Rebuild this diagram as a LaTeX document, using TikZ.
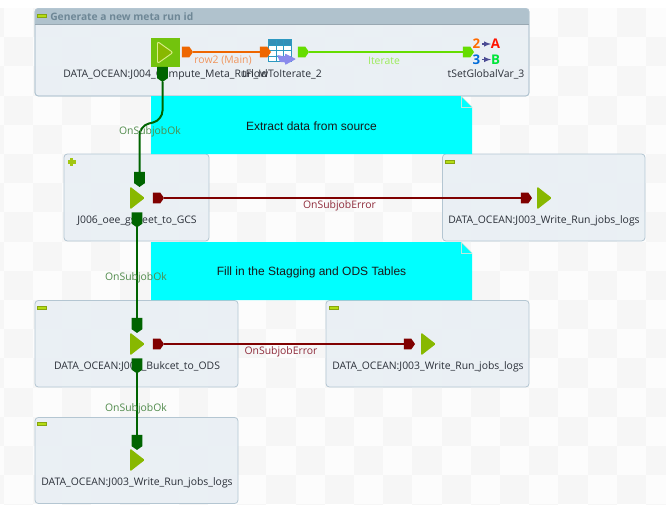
\documentclass[tikz,border=0pt]{standalone}
\usepackage{fontspec}
\usetikzlibrary{shapes.symbols}
\newfontfamily\uifont{Open Sans}
\newfontfamily\notefont{Liberation Sans}
\definecolor{tileD}{HTML}{F6F6F6}
\definecolor{tileL}{HTML}{FCFCFC}
\definecolor{bodyC}{HTML}{E9EFF4}
\definecolor{edgeC}{HTML}{B4C6D2}
\definecolor{headC}{HTML}{B0C2CD}
\definecolor{okC}{HTML}{006400}
\definecolor{errC}{HTML}{800000}
\definecolor{rowC}{HTML}{EE6600}
\definecolor{iterC}{HTML}{66DD00}
\definecolor{playC}{HTML}{88B800}
\definecolor{barC}{HTML}{B4DC14}
\definecolor{noteC}{HTML}{00FFFF}
\definecolor{foldC}{HTML}{BFE8DC}
\definecolor{okTxt}{HTML}{4F8A4A}
\definecolor{errTxt}{HTML}{8E2A3A}
\definecolor{rowTxt}{HTML}{F0965F}
\definecolor{iterTxt}{HTML}{9CEB5A}
\definecolor{compTxt}{HTML}{2A2F38}
\definecolor{headTxt}{HTML}{6E8796}
\tikzset{
  subjob/.style={draw=edgeC,fill=bodyC,line width=.6pt,rounded corners=2.5pt},
  tabbase/.style={signal,signal from=nowhere,signal pointer angle=110,inner sep=0pt,outer sep=0pt,draw=none},
  tabE/.style={tabbase,signal to=east,minimum width=8.4pt,minimum height=8.2pt},
  tabS/.style={tabbase,signal to=south,minimum width=8.2pt,minimum height=8.4pt},
  conn/.style={line width=1.5pt},
  complabel/.style={font=\uifont\fontsize{7.8}{9}\selectfont,text=compTxt,inner sep=0pt},
  linklabel/.style={font=\uifont\fontsize{7.8}{9}\selectfont,inner sep=0pt},
  notetext/.style={font=\notefont\fontsize{9}{10}\selectfont,text=black!90,inner sep=0pt},
  varglyph/.style={inner sep=0pt,font=\uifont\bfseries\fontsize{10}{11}\selectfont}
}
\newcommand{\playicon}[2]{\fill[playC,rounded corners=1pt] (#1-7.3,#2-11.5) -- (#1+7.5,#2) -- (#1-7.3,#2+11.5) -- cycle;}
\newcommand{\minusicon}[2]{\draw[draw=barC!75!black,fill=barC,line width=.3pt] (#1,#2-1.6) rectangle (#1+9,#2+1.6);}
\newcommand{\noteshape}[4]{%
  \fill[noteC] (#1,#2) -- (#3-11,#2) -- (#3,#2+11) -- (#3,#4) -- (#1,#4) -- cycle;
  \draw[draw=foldC,line width=.5pt] (#3-11,#2) -- (#3-11,#2+11) -- (#3,#2+11);
  \draw[draw=foldC,line width=.4pt] (#3-11,#2) -- (#3,#2+11);
}
\begin{document}
\begin{tikzpicture}[x=0.75pt,y=-0.75pt]
\clip (0,0) rectangle (666,504);
\fill[white] (0,0) rectangle (666,504);
\fill[tileL] (0,8) rectangle (666,504);
\foreach \i in {-1,...,23}{\foreach \j in {0,...,17}{%
  \pgfmathtruncatemacro{\k}{mod(\i+\j+40,2)}%
  \ifnum\k=1
    \fill[tileD] ({3.6+29.2*\i},{8+29.2*\j}) rectangle ++(29.2,29.2);
  \fi}}

% subjob groups
\draw[subjob,fill opacity=.9] (35,8.5) rectangle (529,96);
\begin{scope}
\clip[rounded corners=2.5pt] (35,8.5) rectangle (529,96);
\fill[headC] (35,8.5) rectangle (529,24);
\end{scope}
\draw[subjob,fill=none] (35,8.5) rectangle (529,96);
\draw[edgeC!85!black,line width=.4pt] (35,24) -- (529,24);
\draw[subjob,fill opacity=.9] (64,154) rectangle (209,241);
\draw[subjob,fill opacity=.9] (442.5,154) rectangle (645,241);
\draw[subjob,fill opacity=.9] (35,300.5) rectangle (238,387);
\draw[subjob,fill opacity=.9] (326,300.5) rectangle (529,387);
\draw[subjob,fill opacity=.9] (35,417.5) rectangle (238,503.5);

\minusicon{37.5}{16}
\minusicon{445}{162}
\minusicon{37.5}{308}
\minusicon{329}{308}
\minusicon{37.5}{424}
% plus icon
\fill[barC!90!black] (67.5,160.3) rectangle (75.5,163.7);
\fill[barC!90!black] (69.8,158) rectangle (73.2,166);

\node[anchor=west,inner sep=0pt,font=\uifont\bfseries\fontsize{7.7}{9}\selectfont,text=headTxt] (grouptitle) at (50,16.5) {Generate a new meta run id};

% notes
\noteshape{151}{96}{472}{154}
\noteshape{151}{242}{472}{300}
\node[notetext] (note1) at (311.5,126) {Extract data from source};
\node[notetext] (note2) at (311.5,272) {Fill in the Stagging and ODS Tables};

% component labels
\node[complabel] (c1) at (165.5,74.5) {DATA\_OCEAN:J004\_Compute\_Meta\_Run\_Id};
\node[complabel] (c2) at (282,74.5) {tFlowToIterate\_2};
\node[complabel] (c3) at (486,74.5) {tSetGlobalVar\_3};
\node[complabel] (c4) at (137,220.5) {J006\_oee\_gsheet\_to\_GCS};
\node[complabel] (c5) at (544,220.5) {DATA\_OCEAN:J003\_Write\_Run\_jobs\_logs};
\node[complabel] (c6) at (137,366.5) {DATA\_OCEAN:J004\_Bukcet\_to\_ODS};
\node[complabel] (c7) at (428,366.5) {DATA\_OCEAN:J003\_Write\_Run\_jobs\_logs};
\node[complabel] (c8) at (137,482.5) {DATA\_OCEAN:J003\_Write\_Run\_jobs\_logs};

% first component icon
\fill[barC!75!green!85!black] (151,38) rectangle (180,67);
\fill[playC,draw=barC!50!white,line width=.7pt,rounded corners=1.5pt] (157.5,41.5) -- (173,52.5) -- (157.5,63.5) -- cycle;
\playicon{137.3}{198}
\playicon{544.3}{198}
\playicon{137.3}{344}
\playicon{428.3}{344}
\playicon{137.3}{460}

% table icon
\fill[white] (268.5,39.5) rectangle (291,61);
\fill[black!35!blue!40!cyan!60!gray] (268.5,39.5) rectangle (291,45);
\draw[black!30!blue!35!cyan!65!gray,line width=.5pt] (268.5,39.5) rectangle (291,61)
  (276,39.5) -- (276,61) (283.5,39.5) -- (283.5,61) (268.5,45) -- (291,45) (268.5,50.5) -- (291,50.5) (268.5,56) -- (291,56);
\fill[blue!45!white!85!gray,rounded corners=.6pt] (277,55) -- (285,56.5) -- (285,53.5) -- (296,59) -- (285,65) -- (285,62) -- (280,62) -- cycle;

% tSetGlobalVar icon
\node[varglyph,text=orange!85!red] (n2) at (476.5,44) {2};
\node[varglyph,text=red!85!orange] (na) at (495.5,44) {A};
\node[varglyph,text=blue!50!cyan!85!black] (n3) at (476.5,59.5) {3};
\node[varglyph,text=green!75!cyan!90!black] (nb) at (495.5,59.5) {B};
\draw[-latex,blue!40!black!70!white,line width=.8pt] (n2) ++(5.5,0) -- ++(9,0);
\draw[-latex,blue!40!black!70!white,line width=.8pt] (n3) ++(5.5,0) -- ++(9,0);

% connector tabs
\node[tabE,fill=rowC] (r1) at (185.5,52) {};
\node[tabE,fill=rowC] (r2) at (263.5,52) {};
\node[tabE,fill=iterC] (i1) at (301.5,52) {};
\node[tabE,fill=iterC] (i2) at (466.5,52) {};
\node[tabS,fill=okC] (k1) at (162.5,72.5) {};
\node[tabS,fill=okC] (k2) at (139.5,177.5) {};
\node[tabS,fill=okC] (k3) at (137,218) {};
\node[tabS,fill=okC] (k4) at (137,323.5) {};
\node[tabS,fill=okC] (k5) at (137,364) {};
\node[tabS,fill=okC] (k6) at (137,440.5) {};
\node[tabE,fill=errC] (e1) at (156.5,198) {};
\node[tabE,fill=errC] (e2) at (524.5,198) {};
\node[tabE,fill=errC] (e3) at (156.5,344) {};
\node[tabE,fill=errC] (e4) at (407.5,344) {};

% connectors
\draw[conn,rowC] (r1.east) -- (r2.west);
\draw[conn,iterC] (i1.east) -- (i2.west);
\draw[conn,okC,rounded corners=7pt] (k1.south) -- (162.5,120) -- (139.5,126) -- (k2.north);
\draw[conn,okC] (k3.south) -- (k4.north);
\draw[conn,okC] (k5.south) -- (k6.north);
\draw[conn,errC] (e1.east) -- (e2.west);
\draw[conn,errC] (e3.east) -- (e4.west);

% connector labels
\node[linklabel,text=rowTxt] (lr) at (223,60.5) {row2 (Main)};
\node[linklabel,text=iterTxt] (li) at (384,60.5) {Iterate};
\node[linklabel,text=okTxt] (l1) at (150,132) {OnSubjobOk};
\node[linklabel,text=okTxt] (l2) at (136,278) {OnSubjobOk};
\node[linklabel,text=okTxt] (l3) at (136,409) {OnSubjobOk};
\node[linklabel,text=errTxt] (l4) at (339.5,205.5) {OnSubjobError};
\node[linklabel,text=errTxt] (l5) at (281,351.5) {OnSubjobError};
\end{tikzpicture}
\end{document}
